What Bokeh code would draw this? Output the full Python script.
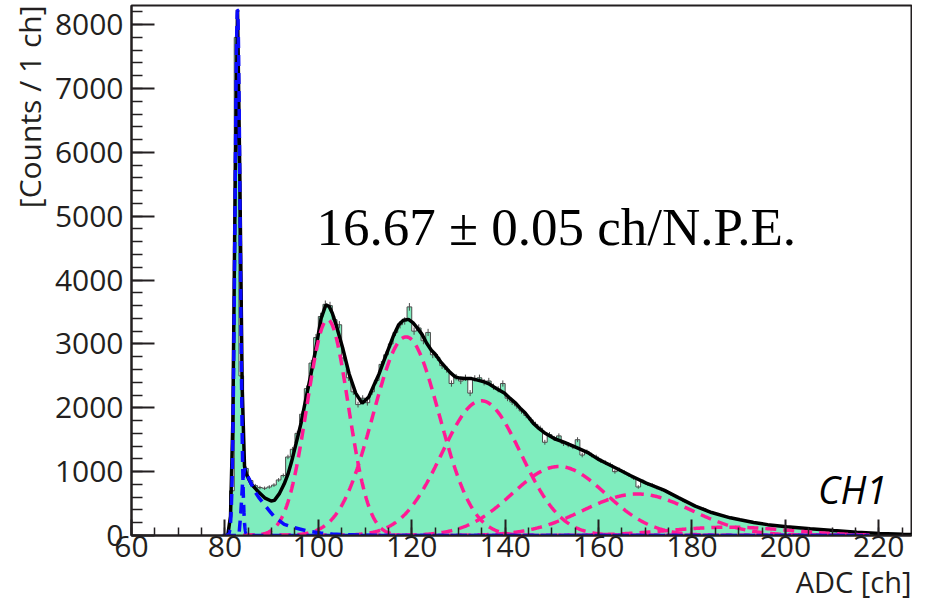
import math
import numpy as np
from bokeh.plotting import figure
from bokeh.models import SingleIntervalTicker, Label, Title
from bokeh.embed import file_html
from bokeh.resources import INLINE

# ---------------- data ----------------
# histogram: channel (bin [c, c+1)) and counts per 1 ch
channels = list(range(80, 229))
counts = [
    0, 700, 7800, 2500, 1050, 860, 780, 750, 740, 760,            # 80-89
    790, 870, 940, 1230, 1350, 1600, 1900, 2300, 2700, 3100,      # 90-99
    3430, 3620, 3600, 3380, 3300, 2780, 2470, 2250, 2050, 2150,   # 100-109
    2080, 2250, 2430, 2680, 2830, 3000, 3180, 3300, 3360, 3580,   # 110-119
    3200, 3250, 3050, 3180, 2830, 2790, 2660, 2600, 2380, 2480,   # 120-129
    2420, 2470, 2230, 2460, 2470, 2400, 2420, 2330, 2290, 2380,   # 130-139
    2150, 2090, 2030, 1950, 1880, 1810, 1740, 1680, 1460, 1580,   # 140-149
    1520, 1560, 1440, 1420, 1390, 1500, 1260, 1310, 1260, 1230,   # 150-159
    1170, 1140, 1110, 1000, 1030, 990, 950, 900, 760, 850,        # 160-169
    810, 790, 750, 720, 690, 650, 610, 580, 530, 500,             # 170-179
    470, 440, 420, 380, 360, 330, 315, 290, 280, 255,             # 180-189
    245, 232, 225, 205, 190, 180, 170, 150, 150, 145,             # 190-199
    138, 130, 120, 118, 110, 102, 104, 90, 86, 80,                # 200-209
    75, 70, 64, 60, 58, 50, 46, 42, 38, 40,                       # 210-219
    30, 28, 25, 22, 20, 18, 16, 14, 12,                           # 220-228
]

# total fit curve (black)
fit_x = [80.6, 81.2, 81.7, 82.2, 82.7, 83.2, 83.7, 84.2, 84.6, 85.7, 87.1, 88.5,
         89.9, 90.6, 91.7, 92.7, 93.5, 94.25, 95.2, 96.3, 97.3, 98.4, 99.4, 100.6,
         101.6, 102.3, 103.0, 103.8, 105.2, 106.6, 108.0, 109.4, 110.8, 112.0, 113.0,
         114.0, 115.1, 116.1, 117.2, 118.2, 119.3, 120.3, 121.3, 122.2, 123.2, 124.2,
         125.0, 126.2, 127.2, 128.2, 129.3, 130.3, 131.4, 132.8, 134.3, 135.5, 136.4,
         138.2, 139.9, 141.0, 142.3, 143.4, 144.3, 146.0, 147.0, 148.4, 150.6, 152.7,
         155.2, 157.6, 159.8, 162.6, 164.0, 166.8, 170.2, 174.0, 177.2, 180.7, 184.2,
         188.2, 190.3, 193.2, 196.2, 200.3, 205.3, 210.3, 215.3, 220.2, 225.2, 228.0]
fit_y = [0, 300, 1800, 5500, 8230, 5600, 2300, 1080, 960, 800, 690, 590,
         540, 550, 660, 810, 960, 1150, 1430, 1760, 2130, 2520, 2900, 3400,
         3610, 3590, 3480, 3300, 2940, 2530, 2230, 2070, 2170, 2370, 2530,
         2730, 2940, 3130, 3300, 3370, 3385, 3330, 3240, 3150, 3010, 2900,
         2841, 2720, 2636, 2555, 2485, 2465, 2460, 2457, 2430, 2405, 2380,
         2300, 2226, 2150, 2070, 1980, 1918, 1760, 1690, 1611, 1515, 1457,
         1380, 1303, 1200, 1097, 1046, 940, 820, 710, 590, 460, 360,
         277, 246, 205, 170, 138, 105, 77, 50, 30, 18, 13]

# blue background component
bkg_x = [80.0, 83.0, 83.4, 83.8, 84.25, 85.2, 86.4, 87.4, 88.5, 89.7, 90.6, 92.7,
         94.8, 97.6, 100.5, 103.0, 106.0, 110.0, 115.0, 218.0]
bkg_y = [0, 0, 350, 850, 1050, 880, 690, 580, 480, 370, 290, 175,
         123, 72, 40, 22, 11, 4, 1, 0]

# pedestal gaussian (blue): mean, sigma, amplitude
ped_mean, ped_sigma, ped_amp = 82.7, 0.55, 8230
# n photo-electron gaussians (magenta): means, sigmas, amplitudes
pe_means = [102.0, 118.8, 134.9, 151.5, 168.3, 188.0]
pe_sigmas = [4.4, 7.1, 8.5, 10.0, 11.6, 13.0]
pe_amps = [3380, 3110, 2110, 1080, 650, 130]

x_axis_title = "ADC [ch]"
y_axis_title = "[Counts / 1 ch]"
gain_text = "16.67 \u00b1 0.05 ch/N.P.E."
channel_text = "CH1"

# ---------------- figure ----------------
GREEN = "#7FEDBE"
PINK = "#FF1A94"
BLUE = "#0A0AFF"
DARK = "#231F20"
FONT = "Open Sans"
DASH = "11 7"

p = figure(width=912, height=600, x_range=(60, 227), y_range=(0, 8300),
           output_backend="svg", toolbar_location=None,
           min_border_left=131, min_border_right=1, min_border_top=5,
           min_border_bottom=0)
p.xgrid.visible = False
p.ygrid.visible = False
p.outline_line_color = DARK
p.outline_line_width = 2
p.background_fill_color = "white"

# histogram (solid fill + step outline + error bars)
left = [c for c in channels]
step_x = left + [channels[-1] + 1]
step_y = counts + [counts[-1]]
p.varea_step(x=step_x, y1=[0] * len(step_x), y2=step_y, step_mode="after",
             fill_color=GREEN)
p.step(step_x, step_y, mode="after", line_color="#4a4a4a", line_width=1)
centers = [c + 0.5 for c in channels]
err = [math.sqrt(v) for v in counts]
p.segment(x0=centers, x1=centers, y0=[v - e for v, e in zip(counts, err)],
          y1=[v + e for v, e in zip(counts, err)], line_color="#4a4a4a", line_width=1)

# total fit
p.line(fit_x, fit_y, line_color="black", line_width=3.5)

# photo-electron components
xs = np.linspace(84.0, 218.0, 900)
for m, s, a in zip(pe_means, pe_sigmas, pe_amps):
    ys = a * np.exp(-((xs - m) ** 2) / (2 * s * s))
    p.line(xs, ys, line_color=PINK, line_width=3.5, line_dash=DASH)

# pedestal + background (blue)
xp = np.concatenate([np.linspace(79.5, 86.0, 400), np.linspace(86.0, 218.0, 300)])
yp = ped_amp * np.exp(-((xp - ped_mean) ** 2) / (2 * ped_sigma ** 2))
p.line(xp, yp, line_color=BLUE, line_width=3.5, line_dash=DASH)
p.line(bkg_x, bkg_y, line_color=BLUE, line_width=3.5, line_dash=DASH)

# axes
p.xaxis.ticker = SingleIntervalTicker(interval=20, num_minor_ticks=4)
p.yaxis.ticker = SingleIntervalTicker(interval=1000, num_minor_ticks=5)
for ax in (p.xaxis[0], p.yaxis[0]):
    ax.axis_line_color = DARK
    ax.axis_line_width = 2
    ax.major_tick_line_color = DARK
    ax.minor_tick_line_color = DARK
    ax.major_tick_line_width = 2
    ax.minor_tick_line_width = 1.5
    ax.major_tick_out = 0
    ax.minor_tick_out = 0
    ax.major_label_text_font = FONT
    ax.major_label_text_font_size = "30px"
    ax.major_label_text_color = DARK
p.yaxis.major_tick_in = 23
p.yaxis.minor_tick_in = 11
p.xaxis.major_tick_in = 16
p.xaxis.minor_tick_in = 8
p.yaxis.major_label_standoff = 8
p.xaxis.major_label_standoff = 0

# axis titles and annotations
p.add_layout(Title(text=y_axis_title, align="right", text_font=FONT,
                   text_font_size="30px", text_font_style="normal",
                   text_color=DARK, standoff=4), "left")
p.add_layout(Title(text=x_axis_title, align="right", text_font=FONT,
                   text_font_size="29px", text_font_style="normal",
                   text_color=DARK, standoff=0), "below")
p.add_layout(Label(x=99.6, y=4830, text=gain_text, text_align="left",
                   text_baseline="alphabetic", text_font="Liberation Serif",
                   text_font_size="53px", text_color="black"))
p.add_layout(Label(x=207.0, y=725, text=channel_text, text_align="left",
                   text_baseline="alphabetic", text_font=FONT,
                   text_font_style="italic", text_font_size="38px",
                   text_color="black"))

open("out.html", "w").write(file_html(p, INLINE))
